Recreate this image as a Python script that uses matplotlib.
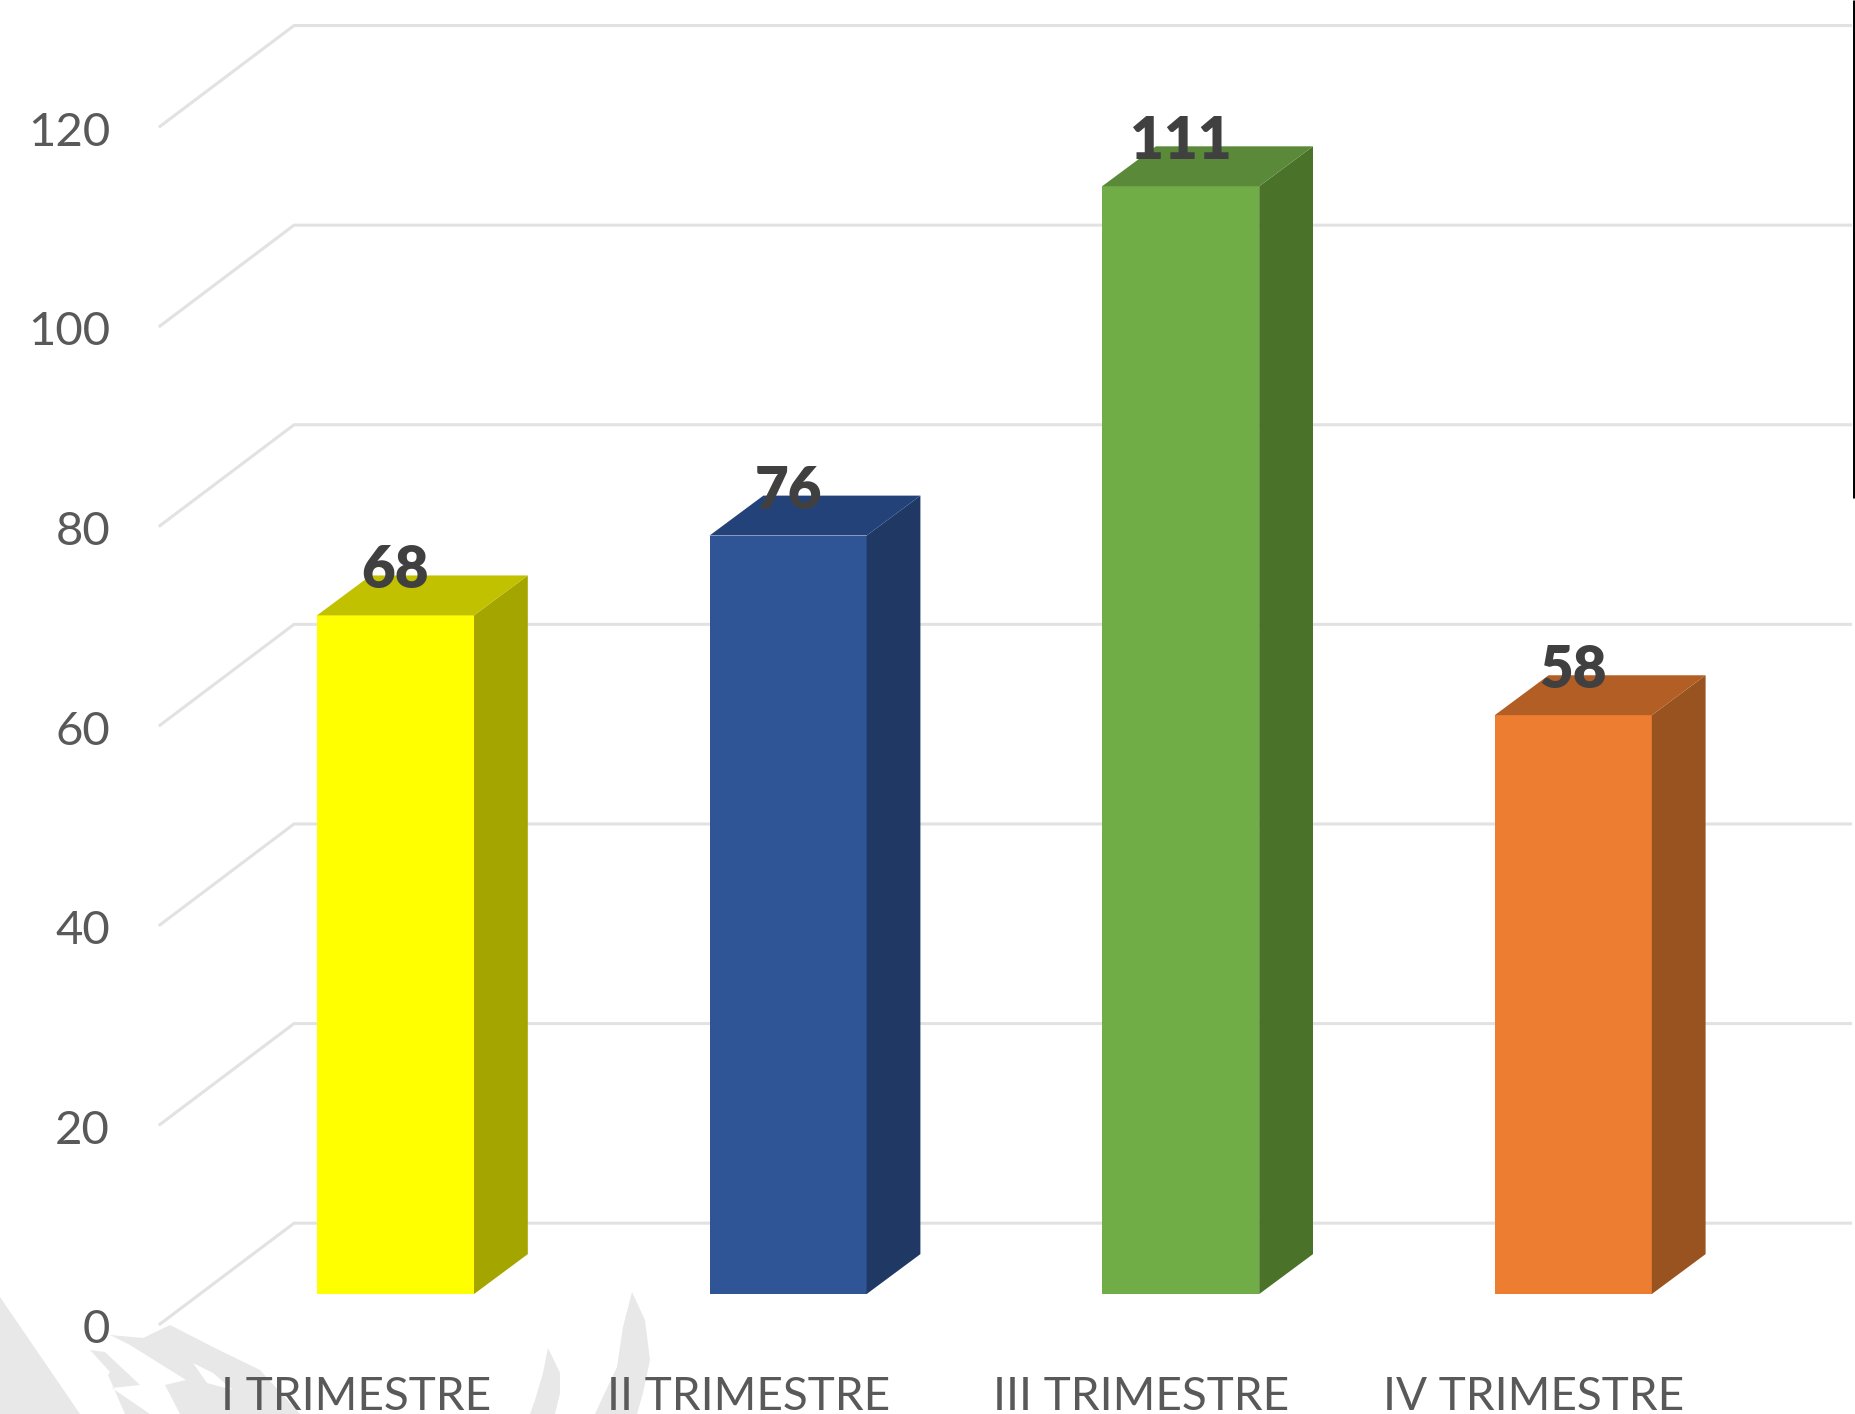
import matplotlib
matplotlib.use("Agg")
import matplotlib.pyplot as plt
from matplotlib.patches import Polygon
from matplotlib.transforms import Affine2D

# Chart values
categories = ["I TRIMESTRE", "II TRIMESTRE", "III TRIMESTRE", "IV TRIMESTRE"]
values = [68, 76, 111, 58]
y_ticks = [0, 20, 40, 60, 80, 100, 120]

front_colors = ["#FFFF00", "#2F5597", "#70AD47", "#ED7D31"]
top_colors = ["#C1C100", "#24427A", "#5A8A39", "#B35E24"]
side_colors = ["#A5A500", "#1F3864", "#4A7229", "#985320"]

plt.rcParams["font.family"] = ["Lato", "DejaVu Sans"]

fig = plt.figure(figsize=(18.56, 14.14), dpi=100)
ax = fig.add_axes([0, 0, 1, 1])
ax.set_xlim(-1.0074, 3.7201)
ax.set_ylim(-12.02, 129.66)
ax.axis("off")

# faint logo behind the chart, in picture pixels from the top left
px = Affine2D().scale(1, -1).translate(0, 1414)
logo_grey = [
    [(0, 1297), (80, 1414), (0, 1414)],
    [(110, 1335), (143, 1338), (170, 1325), (213, 1347), (260, 1370), (300, 1414), (180, 1414), (165, 1385), (186, 1380), (130, 1345)],
    [(90, 1350), (110, 1372), (108, 1375), (125, 1414), (150, 1414), (112, 1388), (140, 1385), (105, 1352)],
    [(632, 1292), (645, 1320), (650, 1360), (643, 1393), (637, 1414), (595, 1414), (600, 1403), (617, 1367), (623, 1327)],
    [(548, 1348), (560, 1373), (560, 1393), (555, 1414), (530, 1414), (535, 1400), (543, 1373)],
]
logo_white = [
    [(193, 1363), (213, 1373), (233, 1390), (207, 1383)],
    [(117, 1343), (167, 1370), (170, 1382), (133, 1373), (113, 1357)],
]
for pts in logo_grey:
    ax.add_patch(Polygon(pts, closed=True, facecolor="#E8E8E8", edgecolor="none", transform=px, zorder=0))
for pts in logo_white:
    ax.add_patch(Polygon(pts, closed=True, facecolor="white", edgecolor="none", transform=px, zorder=0.5))

# 3D depth offsets, in data units
bar_w = 0.4
bar_dx, bar_dy = 0.137, 4.0
back_x, back_dy = -0.2585, 7.1
front_x, front_dy = -0.603, -3.1
right_x = 3.71

# gridlines, back wall plus the slanted bit on the left
for t in y_ticks:
    ax.plot([front_x, back_x, right_x], [t + front_dy, t + back_dy, t + back_dy],
            color="#E2E2E2", lw=2.2, solid_joinstyle="miter", solid_capstyle="butt", zorder=1)
    ax.text(-0.727, t + front_dy - 0.15, str(t), ha="right", va="center_baseline",
            fontsize=34, color="#595959", zorder=5)

# bars
for i, v in enumerate(values):
    ax.bar(i, v, width=bar_w, color=front_colors[i], linewidth=0, zorder=3)
    r = i + bar_w / 2
    l = i - bar_w / 2
    ax.add_patch(Polygon([(r, 0), (r + bar_dx, bar_dy), (r + bar_dx, v + bar_dy), (r, v)],
                         closed=True, facecolor=side_colors[i], edgecolor="none", zorder=3))
    ax.add_patch(Polygon([(l, v), (l + bar_dx, v + bar_dy), (r + bar_dx, v + bar_dy), (r, v)],
                         closed=True, facecolor=top_colors[i], edgecolor="none", zorder=3))
    ax.text(i, v + 4.9, str(v), ha="center", va="center_baseline", fontsize=42,
            fontweight="heavy", color="#404040", zorder=5)
    ax.text(i - 0.1, -11.62, categories[i], ha="center", va="baseline",
            fontsize=33, color="#595959", zorder=5)

# black rule on the right edge
ax.plot([1, 1], [1, 0.648], transform=ax.transAxes, color="black", lw=5,
        solid_capstyle="butt", zorder=6)

plt.savefig("out.png", dpi=100)
